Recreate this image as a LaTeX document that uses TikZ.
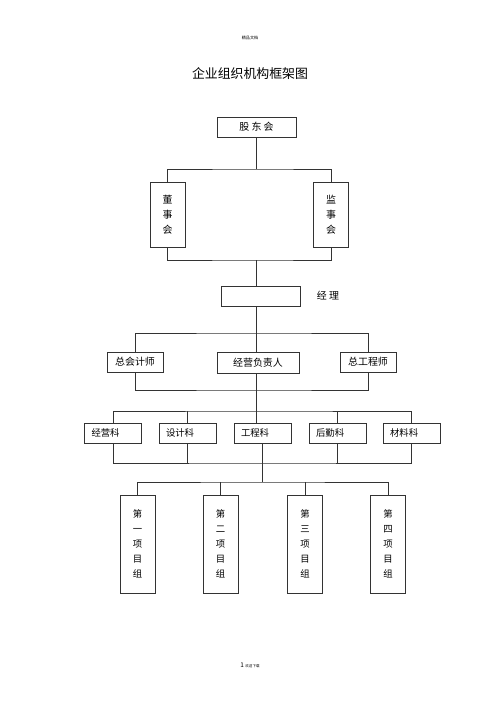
\documentclass[tikz,border=0pt]{standalone}
\usepackage{fontspec}
\setmainfont{Noto Sans CJK SC}
\usepackage{tikz}
\usetikzlibrary{positioning,calc}

\begin{document}
\begin{tikzpicture}[
    x=0.03cm, y=-0.03cm,
    unit/.style={draw=black!80, line width=0.6pt, fill=white, inner sep=0pt, align=center, font=\fontsize{8.5}{10}\selectfont},
    wide/.style={unit, minimum width=2.37cm, minimum height=0.6cm},
    post/.style={unit, minimum width=1.68cm, minimum height=0.6cm},
    dept/.style={unit, minimum width=1.71cm, minimum height=0.6cm, text width=1.29cm, align=left, inner xsep=0.21cm, font=\fontsize{8}{10}\selectfont},
    board/.style={unit, minimum width=1.05cm, minimum height=1.95cm, font=\fontsize{8.5}{12.8}\selectfont},
    group/.style={unit, minimum width=1.05cm, minimum height=2.94cm, font=\fontsize{8}{12.8}\selectfont},
    link/.style={draw=black!80, line width=0.6pt}
]
\useasboundingbox (0,0) rectangle (500,708);

\node (hdr) at (250,38) {\fontsize{3.5}{4}\selectfont 精品文档};
\node (title) at (250,74) {\fontsize{11}{13}\selectfont 企业组织机构框架图};

% top level
\node[wide] (gdh) at (256.5,127) {股\ 东\ 会};
\node[board] (dsh) at (167.5,214.5) {董\\事\\会};
\node[board] (jsh) at (331,214.5) {监\\事\\会};
\node[wide] (jl) at (260.5,296) {};
\node[font=\fontsize{8.5}{10}\selectfont] (jlt) at (328,296) {经\ 理};

\coordinate (b1) at (256.5,169);
\coordinate (b2) at (256,260);
\coordinate (b3) at (256,333);
\coordinate (b4) at (256,390);
\coordinate (b5) at (256,411);

\draw[link] (gdh.south) -- (b1);
\draw[link] (dsh.north) |- (b1) -| (jsh.north);
\draw[link] (dsh.south) |- (b2) -| (jsh.south);
\draw[link] (b2) -- (b2 |- jl.north);
\draw[link] (b2 |- jl.south) -- (b3);

% managers
\node[post] (zkj) at (135,362) {总会计师};
\node[unit, minimum width=2.46cm, minimum height=0.63cm] (jyfz) at (258,362.5) {经营负责人};
\node[post] (zgc) at (368,362) {总工程师};

\draw[link] (zkj.north) |- (b3) -| (zgc.north);
\draw[link] (b3) -- (b3 |- jyfz.north);
\draw[link] (b3 |- jyfz.south) -- (b4);
\draw[link] (zkj.south) |- (b4) -| (zgc.south);
\draw[link] (b4) -- (b5);

% departments
\node[dept] (k1) at (113,433) {经营科};
\node[dept] (k2) at (187.5,433) {设计科};
\node[dept] (k3) at (262.5,433) {工程科};
\node[dept] (k4) at (337.5,433) {后勤科};
\node[dept] (k5) at (411.5,433) {材料科};

\coordinate (b6) at (262.5,463);
\coordinate (b7) at (262.5,482);

\draw[link] (k1.north) |- (b5) -| (k5.north);
\draw[link] (b5) -- (b5 |- k3.north);
\draw[link] (k2.north) -- (k2.north |- b5);
\draw[link] (k4.north) -- (k4.north |- b5);
\draw[link] (k1.south) |- (b6) -| (k5.south);
\draw[link] (k3.south) -- (b6);
\draw[link] (k2.south) -- (k2.south |- b6);
\draw[link] (k4.south) -- (k4.south |- b6);
\draw[link] (b6) -- (b7);

% project groups
\node[group] (g1) at (137.5,544) {第\\一\\项\\目\\组};
\node[group] (g2) at (220.5,544) {第\\二\\项\\目\\组};
\node[group] (g3) at (305,544) {第\\三\\项\\目\\组};
\node[group] (g4) at (388,544) {第\\四\\项\\目\\组};

\draw[link] (g1.north) |- (b7) -| (g4.north);
\draw[link] (g2.north) -- (g2.north |- b7);
\draw[link] (g3.north) -- (g3.north |- b7);

\node (ftr) at (250,665) {\fontsize{5.5}{6}\selectfont 1 \fontsize{3}{4}\selectfont 欢迎下载};
\end{tikzpicture}
\end{document}
